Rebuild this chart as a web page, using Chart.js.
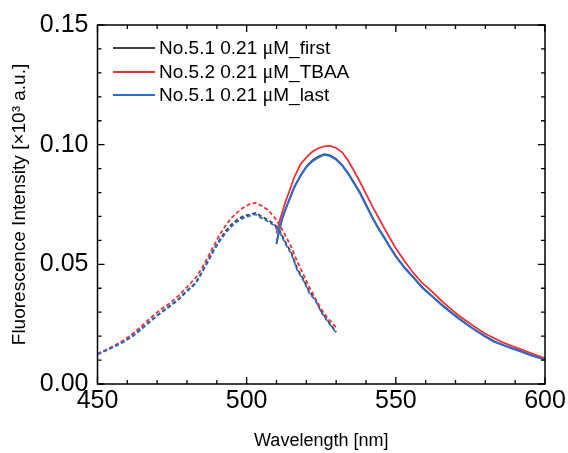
<!DOCTYPE html>
<html>
<head>
<meta charset="utf-8">
<script src="https://cdn.jsdelivr.net/npm/chart.js@4.4.1/dist/chart.umd.min.js"></script>
<style>
  html, body { margin: 0; padding: 0; background: #fff; }
  #wrap { width: 568px; height: 453px; }
</style>
</head>
<body>
<div id="wrap"><canvas id="chart" width="568" height="453"></canvas></div>
<script>
// --- datos ---
const exWavelength = [450, 452, 454, 456, 459, 462, 465, 468, 471, 474, 477, 480, 483, 485, 487, 489, 491, 493, 495, 497, 499, 501, 503, 505, 507, 509, 511, 513, 515, 517, 519, 521, 523, 525, 527, 530];
const exFirst = [0.0124, 0.0136, 0.0147, 0.0160, 0.0179, 0.0203, 0.0235, 0.0266, 0.0297, 0.0325, 0.0353, 0.0390, 0.0424, 0.0469, 0.0515, 0.0562, 0.0604, 0.0640, 0.0668, 0.0688, 0.0702, 0.0708, 0.0715, 0.0700, 0.0686, 0.0670, 0.0642, 0.0592, 0.0548, 0.0480, 0.0438, 0.0386, 0.0354, 0.0304, 0.0268, 0.0216];
const exTBAA = [0.0126, 0.0138, 0.0150, 0.0163, 0.0185, 0.0212, 0.0245, 0.0278, 0.0310, 0.0335, 0.0367, 0.0405, 0.0445, 0.0485, 0.0530, 0.0578, 0.0625, 0.0663, 0.0695, 0.0718, 0.0738, 0.0752, 0.0757, 0.0745, 0.0728, 0.0702, 0.0665, 0.0620, 0.0572, 0.0510, 0.0458, 0.0405, 0.0358, 0.0312, 0.0278, 0.0236];
const exLast = [0.0125, 0.0135, 0.0146, 0.0158, 0.0177, 0.0201, 0.0232, 0.0264, 0.0295, 0.0322, 0.0350, 0.0387, 0.0420, 0.0465, 0.0510, 0.0557, 0.0598, 0.0632, 0.0660, 0.0680, 0.0694, 0.0702, 0.0709, 0.0693, 0.0680, 0.0664, 0.0636, 0.0586, 0.0543, 0.0474, 0.0433, 0.0380, 0.0350, 0.0300, 0.0264, 0.0213];

const emWavelength = [510, 511, 512, 513, 514, 516, 518, 520, 522, 524, 526, 528, 530, 532, 534, 536, 538, 540, 542, 544, 546, 548, 550, 553, 556, 559, 562, 565, 568, 571, 574, 577, 580, 583, 586, 589, 592, 595, 598, 600];
const emFirst = [0.0585, 0.0648, 0.0693, 0.0730, 0.0762, 0.0825, 0.0870, 0.0909, 0.0934, 0.0950, 0.0960, 0.0955, 0.0940, 0.0915, 0.0882, 0.0841, 0.0800, 0.0750, 0.0700, 0.0655, 0.0615, 0.0574, 0.0535, 0.0486, 0.0445, 0.0403, 0.0369, 0.0336, 0.0305, 0.0276, 0.0248, 0.0222, 0.0199, 0.0178, 0.0163, 0.0149, 0.0136, 0.0122, 0.0110, 0.0102];
const emTBAA = [0.0630, 0.0680, 0.0720, 0.0762, 0.0795, 0.0865, 0.0917, 0.0947, 0.0970, 0.0985, 0.0993, 0.0995, 0.0986, 0.0968, 0.0934, 0.0890, 0.0844, 0.0795, 0.0745, 0.0700, 0.0654, 0.0610, 0.0567, 0.0512, 0.0462, 0.0420, 0.0388, 0.0351, 0.0318, 0.0287, 0.0260, 0.0234, 0.0210, 0.0191, 0.0173, 0.0158, 0.0145, 0.0130, 0.0117, 0.0108];
const emLast = [0.0590, 0.0650, 0.0695, 0.0728, 0.0760, 0.0822, 0.0868, 0.0906, 0.0930, 0.0946, 0.0958, 0.0952, 0.0937, 0.0913, 0.0878, 0.0838, 0.0796, 0.0746, 0.0697, 0.0652, 0.0612, 0.0571, 0.0532, 0.0483, 0.0442, 0.0400, 0.0367, 0.0333, 0.0303, 0.0274, 0.0246, 0.0221, 0.0198, 0.0176, 0.0162, 0.0148, 0.0135, 0.0121, 0.0109, 0.0101];

const seriesLabels = ['No.5.1 0.21 μM_first', 'No.5.2 0.21 μM_TBAA', 'No.5.1 0.21 μM_last'];
const seriesColors = ['#404040', '#ec3237', '#2b6cd4'];
const xTicks = [450, 500, 550, 600];
const yTicks = [0, 0.05, 0.10, 0.15];

const FONT = "'Liberation Sans', Arial, sans-serif";
const SERIF = "'Liberation Serif', 'Times New Roman', serif";

function pts(xs, ys) {
    return xs.map((x, i) => ({ x: x, y: ys[i] }));
}

function makeSet(idx, xs, ys, dashed) {
    return {
        label: seriesLabels[idx],
        data: pts(xs, ys),
        borderColor: seriesColors[idx],
        borderWidth: 1.8,
        borderDash: dashed ? [4, 2.5] : [],
        pointRadius: 0,
        tension: 0,
        fill: false,
        order: idx === 2 ? 0 : (idx === 1 ? 1 : 2) // azul encima
    };
}

// --- marco, marcas interiores y leyenda ---
const frameTicks = {
    id: 'frameTicks',
    afterDraw(chart) {
        const { ctx, chartArea: a } = chart;
        const xs = chart.scales.x, ys = chart.scales.y;
        ctx.save();
        ctx.strokeStyle = '#000';
        ctx.lineWidth = 1.5;
        ctx.strokeRect(a.left, a.top, a.right - a.left, a.bottom - a.top);
        ctx.lineWidth = 1.3;
        ctx.beginPath();
        for (let v = 450; v <= 600; v += 10) {
            const px = xs.getPixelForValue(v);
            const len = v % 50 === 0 ? 7 : 4;
            ctx.moveTo(px, a.bottom); ctx.lineTo(px, a.bottom - len);
            ctx.moveTo(px, a.top); ctx.lineTo(px, a.top + len);
        }
        for (let k = 0; k <= 15; k++) {
            const py = ys.getPixelForValue(k / 100);
            const len = k % 5 === 0 ? 7 : 4;
            ctx.moveTo(a.left, py); ctx.lineTo(a.left + len, py);
            ctx.moveTo(a.right, py); ctx.lineTo(a.right - len, py);
        }
        ctx.stroke();

        // leyenda (la letra μ en serif, como en el original)
        ctx.textBaseline = 'middle';
        ctx.textAlign = 'left';
        const rows = [48, 72, 95];
        seriesLabels.forEach((lab, i) => {
            ctx.strokeStyle = seriesColors[i];
            ctx.lineWidth = 1.8;
            ctx.beginPath();
            ctx.moveTo(113, rows[i]); ctx.lineTo(155, rows[i]);
            ctx.stroke();
            ctx.fillStyle = '#000';
            const parts = lab.split('μ');
            let x = 159;
            const y = rows[i] + 1;
            ctx.font = '19px ' + FONT;
            ctx.fillText(parts[0], x, y);
            x += ctx.measureText(parts[0]).width;
            ctx.font = '20px ' + SERIF;
            ctx.fillText('μ', x, y);
            x += ctx.measureText('μ').width;
            ctx.font = '19px ' + FONT;
            ctx.fillText(parts[1], x, y);
        });
        ctx.restore();
    }
};

new Chart(document.getElementById('chart'), {
    type: 'line',
    data: {
        datasets: [
            makeSet(0, exWavelength, exFirst, true),
            makeSet(1, exWavelength, exTBAA, true),
            makeSet(2, exWavelength, exLast, true),
            makeSet(0, emWavelength, emFirst, false),
            makeSet(1, emWavelength, emTBAA, false),
            makeSet(2, emWavelength, emLast, false)
        ]
    },
    options: {
        responsive: false,
        animation: false,
        devicePixelRatio: 1,
        layout: { padding: { top: 25, right: 23, left: 0, bottom: 0 } },
        plugins: { legend: { display: false }, tooltip: { enabled: false } },
        scales: {
            x: {
                type: 'linear',
                min: 450, max: 600,
                afterBuildTicks: s => { s.ticks = xTicks.map(v => ({ value: v })); },
                afterFit: s => { s.height = 69; },
                grid: { display: false, drawTicks: false },
                border: { display: false },
                ticks: { color: '#000', padding: 2, maxRotation: 0, font: { family: FONT, size: 25 } },
                title: { display: true, text: 'Wavelength [nm]', color: '#000', padding: { top: 0, bottom: 1 }, font: { family: FONT, size: 18 } }
            },
            y: {
                type: 'linear',
                min: 0, max: 0.15,
                afterBuildTicks: s => { s.ticks = yTicks.map(v => ({ value: v })); },
                afterFit: s => { s.width = 97.5; },
                grid: { display: false, drawTicks: false },
                border: { display: false },
                ticks: { color: '#000', padding: 9, font: { family: FONT, size: 25 }, callback: v => v.toFixed(2) },
                title: { display: true, text: 'Fluorescence Intensity [×10³ a.u.]', color: '#000', padding: { top: 8, bottom: 0 }, font: { family: FONT, size: 19 } }
            }
        }
    },
    plugins: [frameTicks]
});
</script>
</body>
</html>
